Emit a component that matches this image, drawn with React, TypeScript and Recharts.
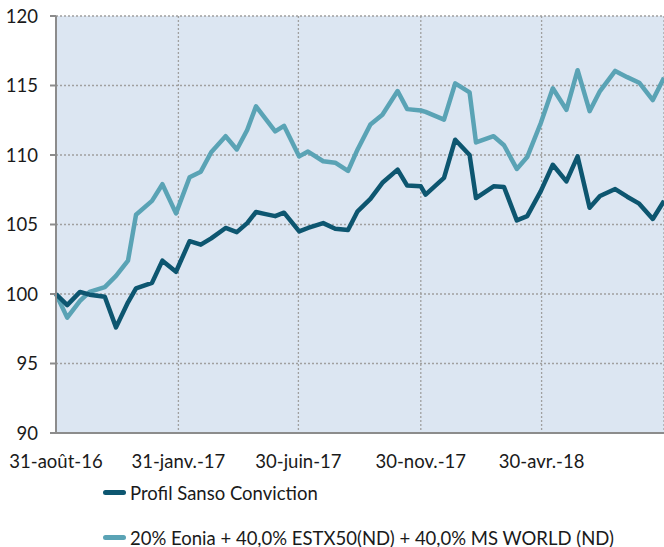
import React from 'react';
import {LineChart, Line, XAxis, YAxis, CartesianGrid, Legend} from 'recharts';

// dates (roughly twice a month)
const dates = [
  '2016-08-31', '2016-09-14', '2016-09-30', '2016-10-12', '2016-10-31', '2016-11-14',
  '2016-11-29', '2016-12-09', '2016-12-29', '2017-01-11', '2017-01-28', '2017-02-14',
  '2017-02-28', '2017-03-13', '2017-03-31', '2017-04-14', '2017-04-27', '2017-05-08',
  '2017-05-20', '2017-06-01', '2017-06-12', '2017-07-01', '2017-07-12', '2017-07-31',
  '2017-08-15', '2017-08-31', '2017-09-12', '2017-09-28', '2017-10-13', '2017-11-01',
  '2017-11-13', '2017-11-30', '2017-12-06', '2017-12-29', '2018-01-12', '2018-01-30',
  '2018-02-07', '2018-03-01', '2018-03-14', '2018-03-30', '2018-04-12', '2018-04-29',
  '2018-05-14', '2018-05-31', '2018-06-14', '2018-06-29', '2018-07-12', '2018-07-31',
  '2018-08-15', '2018-08-30', '2018-09-16', '2018-09-30',
];

const profil = [
  100.0, 99.2, 100.15, 99.95, 99.8, 97.6, 99.4, 100.4, 100.8, 102.4, 101.6, 103.8,
  103.55, 104.0, 104.75, 104.45, 105.1, 105.9, 105.75, 105.6, 105.85, 104.5, 104.75, 105.1,
  104.7, 104.6, 105.95, 106.85, 108.0, 108.95, 107.8, 107.75, 107.15, 108.35, 111.1, 110.0,
  106.9, 107.75, 107.7, 105.3, 105.6, 107.4, 109.3, 108.1, 109.9, 106.2, 107.05, 107.55,
  107.0, 106.5, 105.4, 106.7,
];

const benchmark = [
  100.0, 98.3, 99.5, 100.15, 100.5, 101.3, 102.4, 105.7, 106.7, 107.9, 105.8, 108.4,
  108.8, 110.2, 111.35, 110.4, 111.8, 113.5, 112.6, 111.7, 112.1, 109.9, 110.25, 109.55,
  109.45, 108.85, 110.4, 112.2, 112.9, 114.6, 113.3, 113.2, 113.1, 112.55, 115.15, 114.5,
  110.9, 111.35, 110.7, 109.0, 109.85, 112.3, 114.8, 113.25, 116.1, 113.15, 114.6, 116.05,
  115.6, 115.2, 113.95, 115.55,
];

const seriesNames = ['Profil Sanso Conviction', '20% Eonia + 40,0% ESTX50(ND) + 40,0% MS WORLD (ND)'];
const seriesColors = ['#0d5670', '#5aa3b5'];

const tickDates = ['2016-08-31', '2017-01-31', '2017-06-30', '2017-11-30', '2018-04-30'];
const tickLabels = ['31-août-16', '31-janv.-17', '30-juin-17', '30-nov.-17', '30-avr.-18'];
const yTicks = [90, 95, 100, 105, 110, 115, 120];

const rows = dates.map((d, i) => ({t: Date.parse(d), profil: profil[i], bench: benchmark[i]}));
const xTicks = tickDates.map(d => Date.parse(d));

const font = 'Lato, sans-serif';

const LegendBox = () => (
  <div style={{fontFamily: font, fontSize: 18.5, color: '#1a1a1a'}}>
    {seriesNames.map((name, i) => (
      <div key={name} style={{display: 'flex', alignItems: 'center', height: 45, whiteSpace: 'nowrap'}}>
        <span style={{display: 'inline-block', width: 23, height: 5, borderRadius: 3, background: seriesColors[i], marginRight: 4}} />
        {name}
      </div>
    ))}
  </div>
);

const App = () => {
  return (
    <div style={{position: 'absolute', left: 0, top: 0}}>
      <LineChart width={664} height={547} data={rows} margin={{top: 16, right: 0, bottom: 84, left: 6}}>
        <CartesianGrid
          fill="#dce6f2"
          fillOpacity={1}
          stroke="#a0a0a0"
          strokeDasharray="2 2"
          strokeWidth={1.3}
        />
        <XAxis
          dataKey="t"
          type="number"
          scale="time"
          domain={[Date.parse('2016-08-31'), Date.parse('2018-09-30')]}
          ticks={xTicks}
          tickFormatter={(v: number) => tickLabels[xTicks.indexOf(v)] ?? ''}
          tickLine={false}
          tickSize={0}
          tickMargin={22}
          height={30}
          stroke="#8c8c8c"
          strokeWidth={2}
          tick={{fill: '#1a1a1a', fontSize: 18.5, fontFamily: font}}
          interval={0}
        />
        <YAxis
          domain={[90, 120]}
          ticks={yTicks}
          width={50}
          tickSize={6}
          tickMargin={12}
          stroke="#8c8c8c"
          strokeWidth={2}
          tick={{fill: '#1a1a1a', fontSize: 18.5, fontFamily: font}}
          interval={0}
        />
        <Line
          type="linear"
          dataKey="bench"
          name={seriesNames[1]}
          stroke={seriesColors[1]}
          strokeWidth={4.5}
          strokeLinejoin="round"
          dot={false}
          isAnimationActive={false}
        />
        <Line
          type="linear"
          dataKey="profil"
          name={seriesNames[0]}
          stroke={seriesColors[0]}
          strokeWidth={4.5}
          strokeLinejoin="round"
          dot={false}
          isAnimationActive={false}
        />
        <Legend
          layout="vertical"
          align="center"
          verticalAlign="middle"
          content={<LegendBox />}
          wrapperStyle={{top: 470, left: 103, width: 'auto', height: 'auto'}}
        />
      </LineChart>
    </div>
  );
};

export default App;
